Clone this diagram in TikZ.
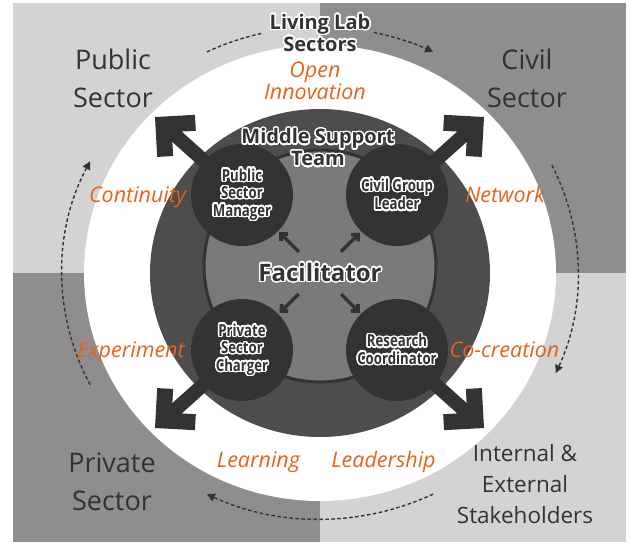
\documentclass[tikz,border=0pt]{standalone}
\usepackage{fontspec}
\setmainfont{Open Sans}
\newfontfamily\narrowfont{Open Sans}[FakeStretch=0.8]
\usepackage{contour}
\contourlength{1.4pt}
\contournumber{32}
\usetikzlibrary{arrows.meta}
\definecolor{lightq}{HTML}{D3D3D3}
\definecolor{darkq}{HTML}{8F8D8E}
\definecolor{ring}{HTML}{4D4D4D}
\definecolor{core}{HTML}{7A7A7A}
\definecolor{ink}{HTML}{333333}
\definecolor{accent}{HTML}{E5631C}
\newcommand{\halo}[1]{\contour{white}{#1}}

\begin{document}
\begin{tikzpicture}[x=1pt,y=-1pt,
    sector/.style={text=ink,font=\fontsize{27}{38}\selectfont,align=center},
    value/.style={text=accent,font=\fontsize{21.5}{22}\selectfont\itshape,anchor=base},
    title/.style={text=ink,font=\fontsize{20}{22}\selectfont\bfseries,align=center},
    member/.style={circle,fill=ink,minimum size=102pt,inner sep=0pt,text=ink,
      font=\narrowfont\fontsize{16.5}{17.5}\selectfont\bfseries,align=center},
    bigarrow/.style={draw=ink,line width=14pt,-{Straight Barb[angle=90:32pt,line width=16pt]}},
    smallarrow/.style={draw=ink,line width=3.5pt,-{Straight Barb[angle=90:7pt,line width=3.5pt]},
      shorten <=30pt,shorten >=53pt},
    flow/.style={draw=ink,line width=1.4pt,dash pattern=on 3.5pt off 2.5pt},
    flowtip/.style={flow,-{Triangle[length=8pt,width=8pt]}}]
  \useasboundingbox (0,0) rectangle (630,542);
  \fill[white] (0,0) rectangle (630,542);
  \fill[lightq] (13,3) rectangle (320,273);
  \fill[darkq] (320,3) rectangle (626,273);
  \fill[darkq] (13,273) rectangle (320,542);
  \fill[lightq] (320,273) rectangle (626,542);

  \coordinate (mid) at (320,273);
  \fill[white] (mid) ellipse [x radius=236, y radius=228];

  \path (mid) ++(244:258 and 246) coordinate (f1)
        (mid) ++(282:258 and 246) coordinate (f2)
        (mid) ++(-26:258 and 246) coordinate (f3)
        (mid) ++(64:258 and 246) coordinate (f4)
        (mid) ++(153:258 and 246) coordinate (f5);
  \draw[flow] (f1) arc [start angle=244, end angle=257, x radius=258, y radius=246];
  \draw[flowtip] (f2) arc [start angle=282, end angle=296, x radius=258, y radius=246];
  \draw[flowtip] (f3) arc [start angle=-26, end angle=24, x radius=258, y radius=246];
  \draw[flowtip] (f4) arc [start angle=64, end angle=116, x radius=258, y radius=246];
  \draw[flowtip] (f5) arc [start angle=153, end angle=207, x radius=258, y radius=246];

  \fill[ring] (mid) ellipse [x radius=170, y radius=164];
  \filldraw[fill=core, draw=ink, line width=3pt] (320,266) circle [radius=116];

  \coordinate (psm-at) at (242,195);
  \coordinate (cgl-at) at (397,195);
  \coordinate (psc-at) at (242,350);
  \coordinate (rc-at) at (397,350);
  \coordinate (tl) at (155,117);
  \coordinate (tr) at (484,117);
  \coordinate (bl) at (155,428);
  \coordinate (br) at (484,428);
  \draw[bigarrow] (psm-at) -- (tl);
  \draw[bigarrow] (cgl-at) -- (tr);
  \draw[bigarrow] (psc-at) -- (bl);
  \draw[bigarrow] (rc-at) -- (br);

  \node[member] (psm) at (psm-at) {\halo{Public}\\\halo{Sector}\\\halo{Manager}};
  \node[member] (cgl) at (cgl-at) {\halo{Civil Group}\\\halo{Leader}};
  \node[member] (psc) at (psc-at) {\halo{Private}\\\halo{Sector}\\\halo{Charger}};
  \node[member] (rc) at (rc-at) {\halo{Research}\\\halo{Coordinator}};

  \node[title,font=\fontsize{24}{26}\selectfont\bfseries] (fac) at (320,273) {\halo{Facilitator}};
  \draw[smallarrow] (fac.center) -- (psm.center);
  \draw[smallarrow] (fac.center) -- (cgl.center);
  \draw[smallarrow] (fac.center) -- (psc.center);
  \draw[smallarrow] (fac.center) -- (rc.center);

  \node[title] (mst) at (318,148) {\halo{Middle Support}\\\halo{Team}};
  \node[title] (lab) at (320,33.5) {\halo{Living Lab}\\\halo{Sectors}};

  \node[sector] (public) at (113,78) {Public\\Sector};
  \node[sector] (civil) at (527,78) {Civil\\Sector};
  \node[sector] (private) at (112,482) {Private\\Sector};
  \node[sector,font=\fontsize{22.5}{31}\selectfont] (stake) at (525,484.5) {Internal \&\\External\\Stakeholders};

  \node[value,anchor=center,align=center] (open) at (315,81) {Open\\Innovation};
  \node[value] (continuity) at (137.5,202) {Continuity};
  \node[value] (network) at (505,202) {Network};
  \node[value] (experiment) at (131,357) {Experiment};
  \node[value] (cocreation) at (504.5,357) {Co-creation};
  \node[value] (learning) at (258.5,467) {Learning};
  \node[value] (leadership) at (383.5,467) {Leadership};
\end{tikzpicture}
\end{document}
